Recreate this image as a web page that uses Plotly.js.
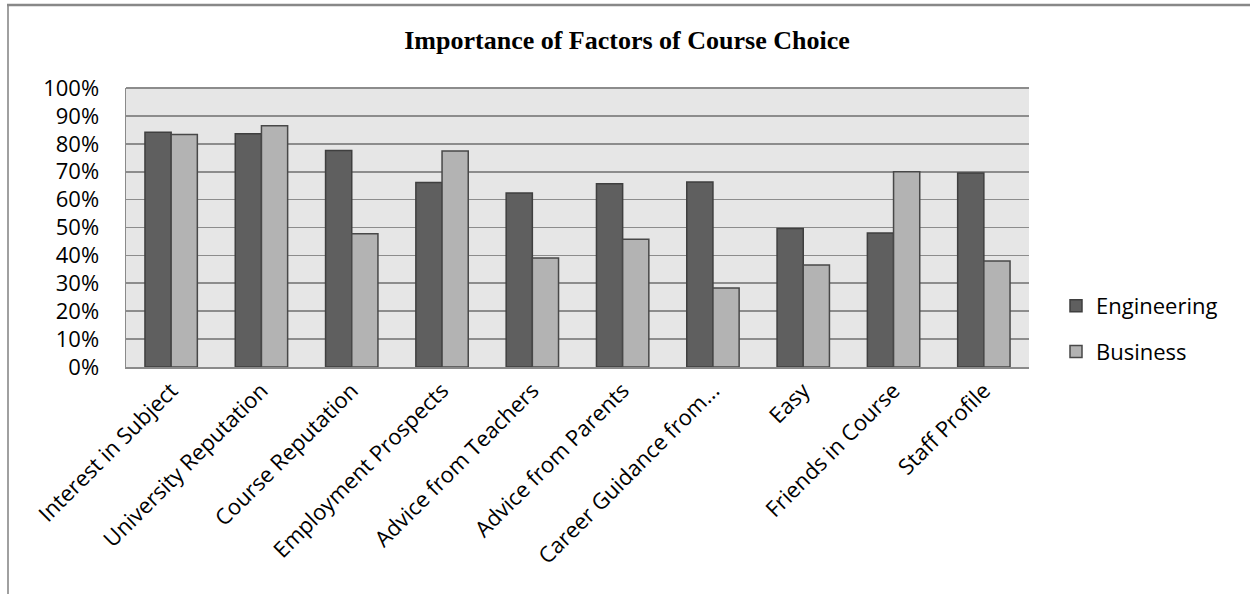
<!DOCTYPE html>
<html>
<head>
<meta charset="utf-8">
<script src="https://cdn.plot.ly/plotly-3.0.1.min.js"></script>
<style>html,body{margin:0;padding:0;background:#fff;}#chart{width:1250px;height:594px;}</style>
</head>
<body>
<div id="chart"></div>
<script>
const categories = ["Interest in Subject","University Reputation","Course Reputation","Employment Prospects","Advice from Teachers","Advice from Parents","Career Guidance from...","Easy","Friends in Course","Staff Profile"];
const engineering = [84.1, 83.6, 77.6, 66.1, 62.4, 65.7, 66.3, 49.6, 48.0, 69.5];
const business = [83.3, 86.5, 47.8, 77.4, 39.1, 45.8, 28.3, 36.6, 70.0, 38.0];
const yTicks = [0,10,20,30,40,50,60,70,80,90,100];
const seriesNames = ["Engineering","Business"];
const chartTitle = "Importance of Factors of Course Choice";

const W = 1250, H = 594;
const L = 126, R = 1029, T = 88, B = 367;
const pw = R - L, ph = B - T;
const px = v => (v - L) / pw;
const py = v => (B - v) / ph;

const font = "Open Sans, DejaVu Sans, sans-serif";

const traces = [
  {type:"bar", name:seriesNames[0], x:categories, y:engineering, legendgroup:"a",
   marker:{color:"#5f5f5f", line:{color:"#3f3f3f", width:1.5}}},
  {type:"bar", name:seriesNames[1], x:categories, y:business, legendgroup:"b",
   marker:{color:"#b3b3b3", line:{color:"#484848", width:1.5}}}
];

const layout = {
  width: W, height: H,
  margin: {l:L, r:W-R, t:T, b:H-B, pad:0},
  paper_bgcolor: "#ffffff",
  plot_bgcolor: "#e6e6e6",
  font: {family: font, color:"#000", size:22},
  title: {text: chartTitle, font:{family:"Liberation Serif, Times New Roman, serif", size:26, weight:"bold", color:"#000"},
          x: 627/W, xref:"container", xanchor:"center", y: 1 - 40/H, yref:"container", yanchor:"middle"},
  barmode: "group",
  bargap: 0.42,
  bargroupgap: 0,
  showlegend: true,
  legend: {x: px(1056), xanchor:"left", y: py(329), yanchor:"middle", font:{family:font, size:22, color:"#000"},
           tracegroupgap: 14, bgcolor:"rgba(0,0,0,0)", itemwidth:30},
  xaxis: {type:"category", tickangle:-45, tickfont:{family:font, size:22, color:"#000"},
          showgrid:false, showline:true, linecolor:"#8a8a8a", linewidth:2, ticks:"", zeroline:false, automargin:false},
  yaxis: {range:[0,100], tickvals:yTicks, ticktext: yTicks.map(v => v + "%"),
          tickfont:{family:font, size:22, color:"#000"}, showgrid:true, gridcolor:"#8c8c8c", gridwidth:1.6,
          showline:true, linecolor:"#8a8a8a", linewidth:1.5, ticks:"", ticklabelstandoff:21, zeroline:false, automargin:false},
  shapes: [
    {type:"line", xref:"paper", yref:"paper", x0:px(8), x1:px(8), y0:py(5), y1:py(600), line:{color:"#a0a0a0", width:2}},
    {type:"line", xref:"paper", yref:"paper", x0:px(7), x1:px(1260), y0:py(5), y1:py(5), line:{color:"#888888", width:2.5}},
    {type:"line", xref:"paper", yref:"paper", x0:0, x1:1, y0:1, y1:1, line:{color:"#8c8c8c", width:2}}
  ]
};

Plotly.newPlot("chart", traces, layout, {staticPlot:true, displayModeBar:false});
</script>
</body>
</html>
